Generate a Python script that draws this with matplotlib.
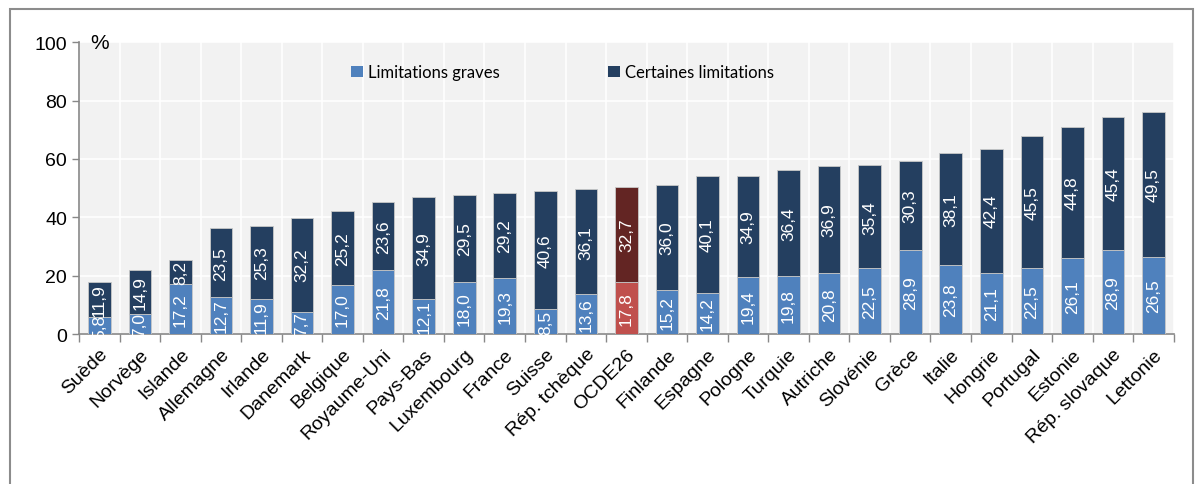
import matplotlib.pyplot as plt
import numpy as np
from matplotlib.patches import Rectangle

plt.rcParams['font.family'] = ['Liberation Sans', 'DejaVu Sans']

pays = ['Suède', 'Norvège', 'Islande', 'Allemagne', 'Irlande', 'Danemark', 'Belgique',
        'Royaume-Uni', 'Pays-Bas', 'Luxembourg', 'France', 'Suisse', 'Rép. tchèque',
        'OCDE26', 'Finlande', 'Espagne', 'Pologne', 'Turquie', 'Autriche', 'Slovénie',
        'Grèce', 'Italie', 'Hongrie', 'Portugal', 'Estonie', 'Rép. slovaque', 'Lettonie']
graves = [5.8, 7.0, 17.2, 12.7, 11.9, 7.7, 17.0, 21.8, 12.1, 18.0, 19.3, 8.5, 13.6,
          17.8, 15.2, 14.2, 19.4, 19.8, 20.8, 22.5, 28.9, 23.8, 21.1, 22.5, 26.1, 28.9, 26.5]
certaines = [11.9, 14.9, 8.2, 23.5, 25.3, 32.2, 25.2, 23.6, 34.9, 29.5, 29.2, 40.6, 36.1,
             32.7, 36.0, 40.1, 34.9, 36.4, 36.9, 35.4, 30.3, 38.1, 42.4, 45.5, 44.8, 45.4, 49.5]
highlight = 'OCDE26'

n = len(pays)
x = np.arange(n)
graves = np.array(graves)
certaines = np.array(certaines)

c_low = ['#c0504d' if p == highlight else '#4f81bd' for p in pays]
c_high = ['#632523' if p == highlight else '#243f60' for p in pays]

fig = plt.figure(figsize=(12.03, 4.85), dpi=100)
ax = fig.add_axes([0.0657, 0.309, 0.910, 0.602])
ax.set_facecolor('#f2f2f2')

width = 0.56
b1 = ax.bar(x, graves, width, color=c_low, edgecolor='#c8c8c8', linewidth=0.6,
            label='Limitations graves', zorder=3)
b2 = ax.bar(x, certaines, width, bottom=graves, color=c_high, edgecolor='#c8c8c8',
            linewidth=0.6, label='Certaines limitations', zorder=3)
# legend colours should stay the regular ones
b1.patches[0].set_facecolor('#4f81bd')
b2.patches[0].set_facecolor('#243f60')

for i in range(n):
    ax.text(x[i], graves[i] / 2, f'{graves[i]:.1f}'.replace('.', ','), rotation=90,
            ha='center', va='center', color='white', fontsize=12.5, zorder=4)
    ax.text(x[i], graves[i] + certaines[i] / 2, f'{certaines[i]:.1f}'.replace('.', ','),
            rotation=90, ha='center', va='center', color='white', fontsize=12.5, zorder=4)

ax.set_xlim(-0.5, n - 0.5)
ax.set_ylim(0, 100)
ax.set_yticks(np.arange(0, 101, 20))
ax.tick_params(axis='y', labelsize=14, colors='#888888', labelcolor='black', length=5, width=1)
ax.set_xticks(x)
ax.set_xticklabels(pays, rotation=45, ha='right', rotation_mode='anchor', fontsize=14)
ax.set_xticks(np.arange(-0.5, n, 1), minor=True)
ax.tick_params(axis='x', which='major', length=0, pad=8)
ax.tick_params(axis='x', which='minor', length=6, color='#888888', width=1)

ax.grid(axis='y', color='white', linewidth=1.2, zorder=1)
ax.grid(axis='x', which='minor', color='white', linewidth=1.2, zorder=1)
ax.set_axisbelow(True)

for s in ['top', 'right']:
    ax.spines[s].set_visible(False)
ax.spines['left'].set_color('#888888')
ax.spines['bottom'].set_color('#888888')
ax.spines['left'].set_linewidth(1.2)
ax.spines['bottom'].set_linewidth(1.2)

ax.text(0.01, 1.0, '%', transform=ax.transAxes, fontsize=15, ha='left', va='center')

leg = ax.legend(loc='upper left', bbox_to_anchor=(0.235, 0.975), ncol=2, frameon=False,
                handlelength=0.7, handleheight=0.7, columnspacing=6.5,
                handletextpad=0.3, prop={'family': ['Lato', 'DejaVu Sans'], 'size': 12})
for h in leg.legend_handles:
    h.set_edgecolor('none')

fig.patches.append(Rectangle((0.008, -0.05), 0.984, 1.03, transform=fig.transFigure,
                             fill=False, edgecolor='#8c8c8c', linewidth=1.5))

fig.savefig('out.png', dpi=100)
